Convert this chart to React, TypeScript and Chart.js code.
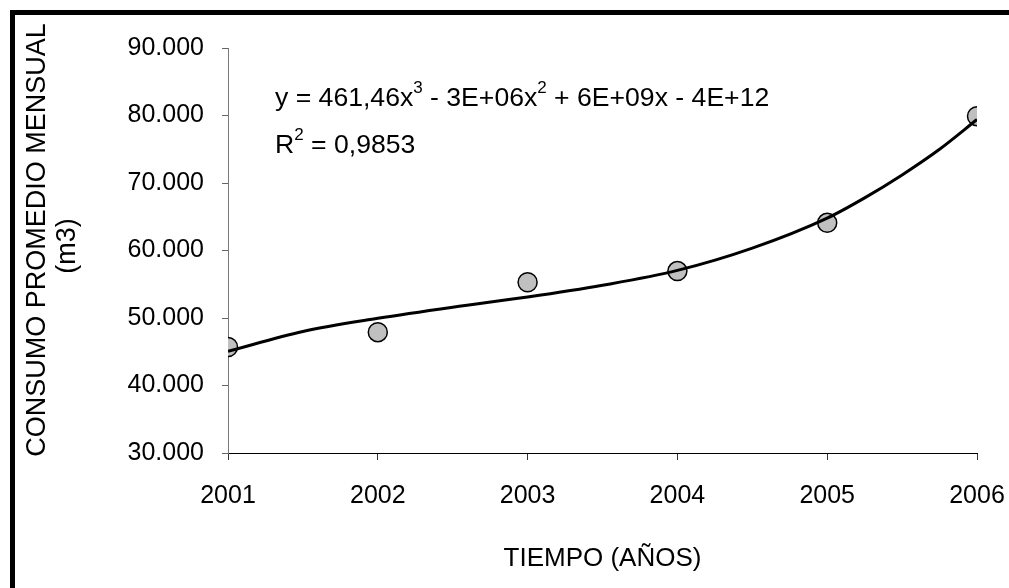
import React, { useEffect, useRef } from 'react';
import { Chart, registerables } from 'chart.js';

Chart.register(...registerables);

// ---- data ----
const years = [2001, 2002, 2003, 2004, 2005, 2006];
const consumo = [45700, 47900, 55300, 56950, 64100, 79900];

// polynomial trend line
const trendYears = [2001, 2001.5, 2002, 2002.5, 2003, 2003.5, 2004, 2004.5, 2005, 2005.25, 2005.5, 2005.75, 2006];
const trendValues = [45070, 48000, 49950, 51600, 53100, 54850, 57050, 60350, 64800, 67800, 71200, 75000, 79400];

const yMin = 30000;
const yMax = 90000;
const yStep = 10000;

const xTitle = 'TIEMPO (AÑOS)';
const yTitle = ['CONSUMO PROMEDIO MENSUAL', '(m3)'];

const eqLine1 = [
  { t: 'y = 461,46x', sup: false },
  { t: '3', sup: true },
  { t: ' - 3E+06x', sup: false },
  { t: '2', sup: true },
  { t: ' + 6E+09x - 4E+12', sup: false },
];
const eqLine2 = [
  { t: 'R', sup: false },
  { t: '2', sup: true },
  { t: ' = 0,9853', sup: false },
];

const FONT = '"Liberation Sans", Arial, Helvetica, sans-serif';

function fmtThousands(v: number): string {
  return Math.round(v).toString().replace(/\B(?=(\d{3})+(?!\d))/g, '.');
}

const decorPlugin = {
  id: 'decor',
  beforeDraw(chart: any) {
    const ctx = chart.ctx;
    ctx.save();
    ctx.fillStyle = '#ffffff';
    ctx.fillRect(0, 0, chart.width, chart.height);
    ctx.restore();
  },
  afterDraw(chart: any) {
    const ctx = chart.ctx;
    ctx.save();
    // frame (top and left edges visible)
    ctx.fillStyle = '#000';
    ctx.fillRect(10, 10, chart.width - 10, 5);
    ctx.fillRect(10, 10, 5, chart.height - 10);

    // equation text
    const drawRich = (parts: { t: string; sup: boolean }[], x: number, y: number) => {
      let cx = x;
      ctx.textAlign = 'left';
      ctx.textBaseline = 'alphabetic';
      for (const p of parts) {
        if (p.sup) {
          ctx.font = `17px ${FONT}`;
          ctx.fillText(p.t, cx, y - 13);
        } else {
          ctx.font = `26.6px ${FONT}`;
          ctx.fillText(p.t, cx, y);
        }
        cx += ctx.measureText(p.t).width;
      }
    };
    ctx.fillStyle = '#000';
    drawRich(eqLine1, 275, 106);
    drawRich(eqLine2, 275, 153);

    // x title
    ctx.font = `26px ${FONT}`;
    ctx.textAlign = 'center';
    ctx.textBaseline = 'alphabetic';
    const ca = chart.chartArea;
    ctx.fillText(xTitle, (ca.left + ca.right) / 2, 566);

    // y title (rotated)
    ctx.save();
    ctx.font = `27px ${FONT}`;
    ctx.rotate(-Math.PI / 2);
    ctx.textAlign = 'center';
    ctx.textBaseline = 'middle';
    ctx.fillText(yTitle[0], -240, 38);
    ctx.fillText(yTitle[1], -246, 68);
    ctx.restore();

    ctx.restore();
  },
};

export default function App() {
  const ref = useRef<HTMLCanvasElement | null>(null);

  useEffect(() => {
    if (!ref.current) return;
    const chart = new Chart(ref.current, {
      type: 'scatter',
      data: {
        datasets: [
          {
            label: 'Tendencia',
            data: trendYears.map((x, i) => ({ x, y: trendValues[i] })),
            showLine: true,
            borderColor: '#000',
            borderWidth: 3,
            pointRadius: 0,
            cubicInterpolationMode: 'monotone',
            fill: false,
            order: 0,
          } as any,
          {
            label: 'Consumo',
            data: years.map((x, i) => ({ x, y: consumo[i] })),
            showLine: false,
            backgroundColor: '#c0c0c0',
            borderColor: '#000',
            borderWidth: 1.5,
            pointRadius: 9.5,
            order: 1,
          } as any,
        ],
      },
      options: {
        responsive: false,
        animation: false,
        events: [],
        layout: { padding: { left: 0, top: 48, right: 32, bottom: 0 } },
        plugins: {
          legend: { display: false },
          tooltip: { enabled: false },
          title: { display: false },
        },
        scales: {
          x: {
            type: 'linear',
            min: years[0],
            max: years[years.length - 1],
            afterFit: (s: any) => {
              s.height = 135;
              s.paddingRight = 0;
              s.paddingLeft = 0;
            },
            ticks: {
              stepSize: 1,
              color: '#000',
              font: { family: FONT, size: 25 },
              padding: 21,
              callback: (v: any) => String(v),
            },
            grid: {
              display: true,
              drawOnChartArea: false,
              drawTicks: true,
              tickLength: 7,
              tickColor: '#333',
            },
            border: { display: true, color: '#000', width: 1 },
          },
          y: {
            type: 'linear',
            min: yMin,
            max: yMax,
            afterFit: (s: any) => {
              s.width = 228;
              s.paddingTop = 0;
              s.paddingBottom = 0;
            },
            ticks: {
              stepSize: yStep,
              color: '#000',
              font: { family: FONT, size: 25 },
              padding: 18,
              callback: (v: any) => fmtThousands(Number(v)),
            },
            grid: {
              display: true,
              drawOnChartArea: false,
              drawTicks: true,
              tickLength: 6,
              tickColor: '#666',
            },
            border: { display: true, color: '#777', width: 1 },
          },
        },
      },
      plugins: [decorPlugin],
    });
    return () => chart.destroy();
  }, []);

  return (
    <div style={{ position: 'fixed', left: 0, top: 0, width: 1009, height: 588, background: '#fff' }}>
      <canvas ref={ref} width={1009} height={588} style={{ display: 'block' }} />
    </div>
  );
}
